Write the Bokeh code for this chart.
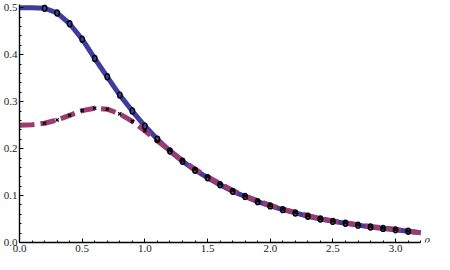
from bokeh.plotting import figure
from bokeh.models import Range1d, FixedTicker, PrintfTickFormatter, Label, ColumnDataSource
from bokeh.embed import file_html
from bokeh.resources import INLINE

# ---- data ----
beta = [0.0, 0.1, 0.2, 0.3, 0.4, 0.5, 0.6, 0.7, 0.8, 0.9, 1.0, 1.1, 1.2, 1.3, 1.4, 1.5,
        1.6, 1.7, 1.8, 1.9, 2.0, 2.1, 2.2, 2.3, 2.4, 2.5, 2.6, 2.7, 2.8, 2.9, 3.0, 3.1, 3.2]
solid_vals = [0.500, 0.500, 0.499, 0.489, 0.466, 0.433, 0.392, 0.353, 0.314, 0.280, 0.248,
              0.220, 0.195, 0.173, 0.154, 0.138, 0.123, 0.109, 0.098, 0.087, 0.078, 0.070,
              0.063, 0.056, 0.050, 0.045, 0.041, 0.037, 0.033, 0.030, 0.027, 0.024, 0.021]
dashed_vals = [0.250, 0.251, 0.254, 0.261, 0.271, 0.281, 0.286, 0.284, 0.274, 0.258, 0.238,
               0.216, 0.196, 0.175, 0.156, 0.140, 0.125, 0.111, 0.099, 0.089, 0.079, 0.071,
               0.064, 0.057, 0.051, 0.046, 0.042, 0.038, 0.034, 0.031, 0.028, 0.024, 0.021]
# markers sit at beta = 0.2 ... 3.1
marker_first, marker_last = 2, 31
x_ticks = [0.0, 0.5, 1.0, 1.5, 2.0, 2.5, 3.0]
y_ticks = [0.0, 0.1, 0.2, 0.3, 0.4, 0.5]
x_label = "β"

BLUE = "#3d3d9e"
PURPLE = "#9b3b72"
FONT = "Liberation Serif"

p = figure(width=434, height=254, output_backend="svg", toolbar_location=None,
           x_range=Range1d(0, 3.31), y_range=Range1d(0, 0.507),
           min_border_left=0, min_border_right=0, min_border_top=4, min_border_bottom=0)
p.outline_line_color = None
p.xgrid.visible = False
p.ygrid.visible = False
p.background_fill_color = "white"
p.border_fill_color = "white"

p.line(beta, solid_vals, line_color=BLUE, line_width=5)
p.line(beta, dashed_vals, line_color=PURPLE, line_width=5, line_dash="15 6")

mb = beta[marker_first:marker_last + 1]
src_o = ColumnDataSource(dict(x=mb, y=solid_vals[marker_first:marker_last + 1]))
src_x = ColumnDataSource(dict(x=mb, y=dashed_vals[marker_first:marker_last + 1]))
p.ellipse(x="x", y="y", width=4.5, height=6, width_units="screen", height_units="screen",
          fill_color=None, line_color="black", line_width=1.4, source=src_o)
p.scatter(x="x", y="y", marker="x", size=4.5, line_color="black", line_width=1.3, source=src_x)

for ax, ticks in ((p.xaxis, x_ticks), (p.yaxis, y_ticks)):
    ax.ticker = FixedTicker(ticks=ticks,
                            minor_ticks=[i / 10 for i in range(33)] if ticks is x_ticks
                            else [i / 50 for i in range(26)])
    ax.formatter = PrintfTickFormatter(format="%.1f")
    ax.axis_line_color = "black"
    ax.axis_line_width = 1.4
    ax.major_tick_line_color = "black"
    ax.minor_tick_line_color = "black"
    ax.major_tick_in = 4
    ax.major_tick_out = 0
    ax.minor_tick_in = 2
    ax.minor_tick_out = 0
    ax.major_label_standoff = 2
    ax.major_label_text_font = FONT
    ax.major_label_text_font_size = "11px"
    ax.major_label_text_color = "#222222"
p.xaxis.bounds = (0, 3.2)

p.add_layout(Label(x=3.2, y=0, text=x_label, x_offset=3, text_baseline="middle",
                   text_font=FONT, text_font_style="italic", text_font_size="12px",
                   text_color="#222222"))

open("out.html", "w").write(file_html(p, INLINE))
